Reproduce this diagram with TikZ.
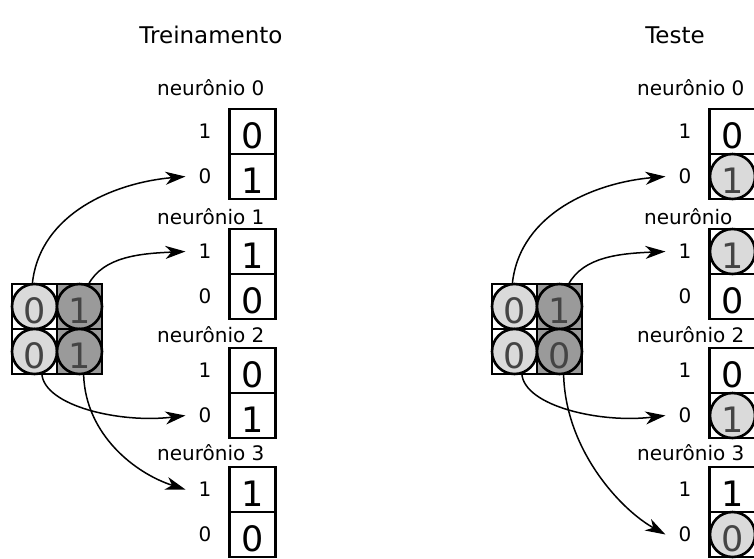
\documentclass[tikz,border=0pt]{standalone}
\usepackage{fontspec}
\setmainfont{DejaVu Sans}
\usetikzlibrary{arrows.meta}
\definecolor{lightg}{HTML}{DADADA}
\definecolor{darkg}{HTML}{9A9A9A}
\definecolor{dgtxt}{HTML}{444444}
\begin{document}
\begin{tikzpicture}[x=1pt,y=-1pt,
  titletext/.style={font=\fontsize{23}{23}\selectfont, inner sep=0},
  nlabel/.style={font=\fontsize{20}{20}\selectfont, inner sep=0, anchor=west},
  rlabel/.style={font=\fontsize{20}{20}\selectfont, inner sep=0},
  cellbox/.style={draw, line width=2.2pt, minimum width=46pt, minimum height=45pt, inner sep=0, font=\fontsize{35}{35}\selectfont, text height=33pt, text depth=0pt},
  gridcell/.style={draw, line width=2.2pt, minimum size=45pt, inner sep=0},
  dotc/.style={circle, draw, line width=2.6pt, minimum size=45pt, inner sep=0, font=\fontsize{35}{35}\selectfont, text=dgtxt, text height=33pt, text depth=0pt},
  arr/.style={line width=1.5pt, -{Stealth[length=20pt,width=13pt,inset=6pt]}},
]
\useasboundingbox (0,0) rectangle (754,558);

% titles
\node[titletext] (t1) at (211,35) {Treinamento};
\node[titletext] (t2) at (675,35) {Teste};

% ---------- training input grid ----------
\node[gridcell, fill=white] (g11) at (34.5,306.5) {};
\node[gridcell, fill=darkg] (g12) at (79.5,306.5) {};
\node[gridcell, fill=white] (g21) at (34.5,351.5) {};
\node[gridcell, fill=darkg] (g22) at (79.5,351.5) {};
\node[dotc, fill=lightg] (a11) at (g11) {0};
\node[dotc, fill=darkg] (a12) at (g12) {1};
\node[dotc, fill=lightg] (a21) at (g21) {0};
\node[dotc, fill=darkg] (a22) at (g22) {1};

% ---------- test input grid ----------
\node[gridcell, fill=white] (h11) at (514.5,306.5) {};
\node[gridcell, fill=darkg] (h12) at (559.5,306.5) {};
\node[gridcell, fill=white] (h21) at (514.5,351.5) {};
\node[gridcell, fill=darkg] (h22) at (559.5,351.5) {};
\node[dotc, fill=lightg] (b11) at (h11) {0};
\node[dotc, fill=darkg] (b12) at (h12) {1};
\node[dotc, fill=lightg] (b21) at (h21) {0};
\node[dotc, fill=darkg] (b22) at (h22) {0};

% ---------- training neurons ----------
\node[nlabel] (n0) at (157,88) {neurônio 0};
\node[cellbox] (p0a) at (252.5,131.5) {0};
\node[cellbox] (p0b) at (252.5,176.5) {1};
\node[rlabel] (r0a) at (205,131.5) {1};
\node[rlabel] (r0b) at (205,176.5) {0};

\node[nlabel] (n1) at (157,217) {neurônio 1};
\node[cellbox] (p1a) at (252.5,251.5) {1};
\node[cellbox] (p1b) at (252.5,296.5) {0};
\node[rlabel] (r1a) at (205,251.5) {1};
\node[rlabel] (r1b) at (205,296.5) {0};

\node[nlabel] (n2) at (157,335) {neurônio 2};
\node[cellbox] (p2a) at (252.5,370.5) {0};
\node[cellbox] (p2b) at (252.5,415.5) {1};
\node[rlabel] (r2a) at (205,370.5) {1};
\node[rlabel] (r2b) at (205,415.5) {0};

\node[nlabel] (n3) at (157,453) {neurônio 3};
\node[cellbox] (p3a) at (252.5,489.5) {1};
\node[cellbox] (p3b) at (252.5,534.5) {0};
\node[rlabel] (r3a) at (205,489.5) {1};
\node[rlabel] (r3b) at (205,534.5) {0};

% ---------- test neurons ----------
\node[nlabel] (m0) at (637,88) {neurônio 0};
\node[cellbox] (q0a) at (732.5,131.5) {0};
\node[cellbox] (q0b) at (732.5,176.5) {};
\node[dotc, fill=lightg] (d0b) at (q0b) {1};
\node[rlabel] (s0a) at (685,131.5) {1};
\node[rlabel] (s0b) at (685,176.5) {0};

\node[nlabel] (m1) at (644,217) {neurônio};
\node[cellbox] (q1a) at (732.5,251.5) {};
\node[cellbox] (q1b) at (732.5,296.5) {0};
\node[dotc, fill=lightg] (d1a) at (q1a) {1};
\node[rlabel] (s1a) at (685,251.5) {1};
\node[rlabel] (s1b) at (685,296.5) {0};

\node[nlabel] (m2) at (637,335) {neurônio 2};
\node[cellbox] (q2a) at (732.5,370.5) {0};
\node[cellbox] (q2b) at (732.5,415.5) {};
\node[dotc, fill=lightg] (d2b) at (q2b) {1};
\node[rlabel] (s2a) at (685,370.5) {1};
\node[rlabel] (s2b) at (685,415.5) {0};

\node[nlabel] (m3) at (637,453) {neurônio 3};
\node[cellbox] (q3a) at (732.5,489.5) {1};
\node[cellbox] (q3b) at (732.5,534.5) {};
\node[dotc, fill=lightg] (d3b) at (q3b) {0};
\node[rlabel] (s3a) at (685,489.5) {1};
\node[rlabel] (s3b) at (685,534.5) {0};

% ---------- training connectors ----------
\draw[arr] (a11.95) .. controls +(8,-70) and +(-70,6) .. ([xshift=-13pt]r0b.west);
\draw[arr] (a12.68) .. controls +(15,-28) and +(-45,2) .. ([xshift=-13pt]r1a.west);
\draw[arr] (a21.-72) .. controls +(3,32) and +(-65,8) .. ([xshift=-13pt]r2b.west);
\draw[arr] (a22.-80) .. controls +(2,60) and +(-50,-16) .. ([xshift=-13pt]r3a.west);

% ---------- test connectors ----------
\draw[arr] (b11.95) .. controls +(8,-70) and +(-70,6) .. ([xshift=-13pt]s0b.west);
\draw[arr] (b12.68) .. controls +(15,-28) and +(-45,2) .. ([xshift=-13pt]s1a.west);
\draw[arr] (b21.-72) .. controls +(3,32) and +(-65,8) .. ([xshift=-13pt]s2b.west);
\draw[arr] (b22.-80) .. controls +(2,75) and +(-45,-25) .. ([xshift=-13pt]s3b.west);
\end{tikzpicture}
\end{document}
